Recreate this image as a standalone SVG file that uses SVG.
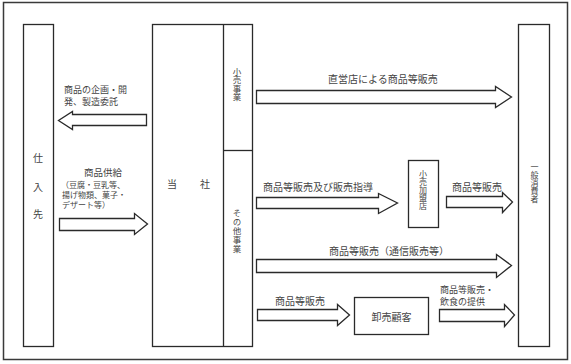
<svg xmlns="http://www.w3.org/2000/svg" width="571" height="364" viewBox="0 0 571 364">
<style>
.box{fill:#fff;stroke:#2a2a2a;stroke-width:1.3}
.arr{fill:#fff;stroke:#2a2a2a;stroke-width:1.3;stroke-linejoin:miter}
.t{font-family:"Noto Sans CJK JP","Noto Sans CJK SC",sans-serif;font-size:10px;fill:#444}
.v{font-family:"Noto Sans CJK JP","Noto Sans CJK SC",sans-serif;font-size:8.5px;fill:#444;writing-mode:vertical-rl}
.m{text-anchor:middle}
</style>
<rect x="3.5" y="2.5" width="564" height="357" fill="#fff" stroke="#3a3a3a" stroke-width="1.5"/>
<g id="shiiresaki">
<rect class="box" x="23.5" y="24.5" width="30" height="322"/>
<text class="t m" x="38" y="162">仕</text>
<text class="t m" x="38" y="191">入</text>
<text class="t m" x="38" y="218">先</text>
</g>
<g id="tousha">
<rect class="box" x="152.5" y="24.5" width="100" height="322"/>
<line x1="223.5" y1="24.5" x2="223.5" y2="346.5" stroke="#2a2a2a" stroke-width="1.3"/>
<line x1="223.5" y1="150.5" x2="252.5" y2="150.5" stroke="#2a2a2a" stroke-width="1.3"/>
<text class="t m" x="172" y="188">当</text>
<text class="t m" x="205" y="188">社</text>
</g>
<g id="kouri-jigyou">
<text class="v" x="237" y="67.5">小売事業</text>
</g>
<g id="sonota-jigyou">
<text class="v" x="237" y="208.5" style="letter-spacing:0.5px">その他事業</text>
</g>
<g id="kamei">
<rect class="box" x="408.5" y="160.5" width="30" height="67"/>
<text class="v" x="423" y="170" style="font-size:8px">小売加盟店</text>
</g>
<g id="oroshi">
<rect class="box" x="354.5" y="297.5" width="74" height="37"/>
<text class="t m" x="391.5" y="320.8">卸売顧客</text>
</g>
<g id="shouhisha">
<rect class="box" x="518.5" y="24.5" width="31" height="322"/>
<text class="v" x="534.5" y="163" style="font-size:8px">一般消費者</text>
</g>
<g id="connectors">
<polygon class="arr" points="146.5,114.5 72.5,114.5 72.5,111.5 58.5,120.5 72.5,129.5 72.5,125.5 146.5,125.5"/>
<polygon class="arr" points="59.5,218.5 134.5,218.5 134.5,213.5 147.5,224 134.5,234.5 134.5,230.5 59.5,230.5"/>
<polygon class="arr" points="256.5,90.5 495.5,90.5 495.5,86.5 511.5,97 495.5,107.5 495.5,103.5 256.5,103.5"/>
<polygon class="arr" points="256.5,197.5 378.5,197.5 378.5,193.5 397.5,203 378.5,213.5 378.5,208.5 256.5,208.5"/>
<polygon class="arr" points="446.5,196.5 502.5,196.5 502.5,192.5 512.5,202 502.5,212.5 502.5,207.5 446.5,207.5"/>
<polygon class="arr" points="256.5,259.5 496.5,259.5 496.5,254.5 511.5,265.5 496.5,277.5 496.5,272.5 256.5,272.5"/>
<polygon class="arr" points="257.5,309.5 337.5,309.5 337.5,304.5 349.5,315 337.5,325.5 337.5,320.5 257.5,320.5"/>
<polygon class="arr" points="439.5,309.5 504.5,309.5 504.5,304.5 514.5,315 504.5,326.5 504.5,321.5 439.5,321.5"/>
<text class="t" style="font-size:9px"><tspan x="64" y="93">商品の企画・開</tspan><tspan x="64" y="105">発、製造委託</tspan></text>
<text class="t" style="font-size:8px"><tspan x="103" y="176" text-anchor="middle" style="font-size:9.5px">商品供給</tspan><tspan x="61" y="188">（豆腐・豆乳等、</tspan><tspan x="62" y="197.8">揚げ物類、菓子・</tspan><tspan x="62" y="207.6">デザート等）</tspan></text>
<text class="t" x="328" y="83">直営店による商品等販売</text>
<text class="t" x="263" y="191">商品等販売及び販売指導</text>
<text class="t" x="452" y="191">商品等販売</text>
<text class="t" x="329" y="255">商品等販売（通信販売等）</text>
<text class="t" x="275" y="305">商品等販売</text>
<text class="t" style="font-size:9px"><tspan x="440" y="293">商品等販売・</tspan><tspan x="440" y="305">飲食の提供</tspan></text>
</g>
</svg>
